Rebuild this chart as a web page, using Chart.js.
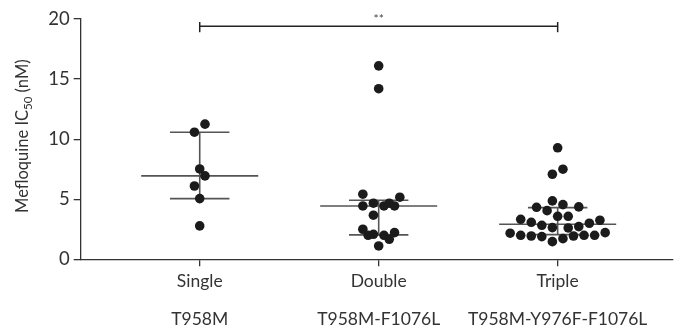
<!DOCTYPE html>
<html>
<head>
<meta charset="utf-8">
<script src="https://cdn.jsdelivr.net/npm/chart.js@4/dist/chart.umd.min.js"></script>
<style>
  html, body { margin: 0; padding: 0; background: #fff; }
  #wrap { width: 677px; height: 333px; }
</style>
</head>
<body>
<div id="wrap"><canvas id="c"></canvas></div>
<script>
// groups and second-line labels
var groups = ['Single', 'Double', 'Triple'];
var mutations = ['T958M', 'T958M-F1076L', 'T958M-Y976F-F1076L'];

// IC50 values (nM) per group, with the dot column each one sits in
var singleVals = [11.25, 10.58, 7.52, 6.94, 6.1, 5.05, 2.78];
var singleCols = [1, -1, 0, 1, -1, 0, 0];

var doubleVals = [16.1, 14.2, 5.42, 5.17, 4.44, 4.67, 4.44, 4.67, 4.44, 3.67, 2.5, 2.0, 2.08, 2.0, 1.67, 2.22, 1.11];
var doubleCols = [0, 0, -3, 4, -3, -1, 1, 2, 3, -1, -3, -2, -1, 1, 2, 3, 0];

var tripleVals = [9.28, 7.5, 7.08, 4.86, 4.55, 4.33, 4.36, 4.05, 3.58, 3.58, 3.33, 3.08, 2.83, 2.64, 2.61, 2.72, 3.0, 3.25,
                  2.17, 2.0, 1.94, 1.89, 1.47, 1.72, 1.94, 2.0, 2.0, 2.22];
var tripleCols = [0, 1, -1, -1, 1, -4, 4, -2, 0, 2, -7, -5, -3, -1, 2, 4, 6, 8,
                  -9, -7, -5, -3, -1, 1, 3, 5, 7, 9];

// median and interquartile range
var medians = [6.94, 4.44, 2.92];
var q1 = [5.05, 2.03, 2.05];
var q3 = [10.58, 4.92, 4.3];

// significance bracket
var sigFrom = 1, sigTo = 3, sigLevel = 19.4, sigLabel = '**';

var yTicks = [0, 5, 10, 15, 20];

var FONT = 'Lato, "Open Sans", sans-serif';
var COL = 0.0295;   // one dot column in category units
var MED_HALF = 0.327, Q_HALF = 0.166;

function pts(vals, cols, cat) {
    return vals.map(function (v, i) { return { x: cat + cols[i] * COL, y: v }; });
}

var dotStyle = {
    type: 'scatter',
    pointRadius: 4.8,
    pointBackgroundColor: '#1b1b1b',
    pointBorderColor: '#1b1b1b',
    pointBorderWidth: 0,
    order: 0
};

var datasets = [
    Object.assign({ label: groups[0], data: pts(singleVals, singleCols, 1) }, dotStyle),
    Object.assign({ label: groups[1], data: pts(doubleVals, doubleCols, 2) }, dotStyle),
    Object.assign({ label: groups[2], data: pts(tripleVals, tripleCols, 3) }, dotStyle)
];

function seg(a, b, color, w) {
    return {
        type: 'line', data: [a, b], borderColor: color, borderWidth: w,
        pointRadius: 0, fill: false, order: 1, clip: false
    };
}

for (var i = 0; i < groups.length; i++) {
    var c = i + 1;
    datasets.push(seg({ x: c - MED_HALF, y: medians[i] }, { x: c + MED_HALF, y: medians[i] }, '#555', 1.6));
    datasets.push(seg({ x: c - Q_HALF, y: q1[i] }, { x: c + Q_HALF, y: q1[i] }, '#555', 1.6));
    datasets.push(seg({ x: c - Q_HALF, y: q3[i] }, { x: c + Q_HALF, y: q3[i] }, '#555', 1.6));
    datasets.push(seg({ x: c, y: q1[i] }, { x: c, y: q3[i] }, '#555', 1.6));
}

// bracket
datasets.push(seg({ x: sigFrom, y: sigLevel }, { x: sigTo, y: sigLevel }, '#222', 1.5));
datasets.push(seg({ x: sigFrom, y: sigLevel - 0.5 }, { x: sigFrom, y: sigLevel + 0.35 }, '#222', 1.5));
datasets.push(seg({ x: sigTo, y: sigLevel - 0.5 }, { x: sigTo, y: sigLevel + 0.35 }, '#222', 1.5));

var extras = {
    id: 'extras',
    afterDraw: function (chart) {
        var ctx = chart.ctx, xs = chart.scales.x, ys = chart.scales.y;
        ctx.save();
        // significance stars
        ctx.fillStyle = '#444';
        ctx.font = '12px ' + FONT;
        ctx.textAlign = 'center';
        ctx.textBaseline = 'bottom';
        ctx.fillText(sigLabel, xs.getPixelForValue((sigFrom + sigTo) / 2), ys.getPixelForValue(sigLevel) - 1);

        // y title with subscript
        var cy = (chart.chartArea.top + chart.chartArea.bottom) / 2 - 3;
        ctx.translate(23, cy);
        ctx.rotate(-Math.PI / 2);
        ctx.fillStyle = '#333';
        ctx.textBaseline = 'middle';
        ctx.textAlign = 'left';
        var big = '16.5px ' + FONT, small = '11.5px ' + FONT;
        var p1 = 'Mefloquine IC', p2 = '50', p3 = ' (nM)';
        ctx.font = big; var w1 = ctx.measureText(p1).width, w3 = ctx.measureText(p3).width;
        ctx.font = small; var w2 = ctx.measureText(p2).width;
        var x0 = -(w1 + w2 + w3) / 2;
        ctx.font = big; ctx.fillText(p1, x0, 0);
        ctx.font = small; ctx.fillText(p2, x0 + w1, 5);
        ctx.font = big; ctx.fillText(p3, x0 + w1 + w2, 0);
        ctx.restore();
    }
};

new Chart(document.getElementById('c'), {
    type: 'scatter',
    data: { datasets: datasets },
    options: {
        responsive: true,
        maintainAspectRatio: false,
        animation: false,
        layout: { padding: { top: 19, right: 0, left: 0, bottom: 0 } },
        plugins: { legend: { display: false }, tooltip: { enabled: false } },
        scales: {
            x: {
                type: 'linear',
                min: 0.335,
                max: 3.64,
                afterBuildTicks: function (s) { s.ticks = [{ value: 1 }, { value: 2 }, { value: 3 }]; },
                afterFit: function (s) { s.height = 73.7; },
                ticks: {
                    autoSkip: false,
                    maxRotation: 0,
                    padding: 5,
                    color: '#333',
                    font: { family: FONT, size: 17.5, lineHeight: 1.1 },
                    callback: function (v) { return [groups[v - 1], '', mutations[v - 1]]; }
                },
                grid: { drawOnChartArea: false, drawTicks: true, tickLength: 7, color: '#333', lineWidth: 1.3 },
                border: { display: true, color: '#333', width: 1.3 }
            },
            y: {
                min: 0,
                max: 20,
                afterBuildTicks: function (s) { s.ticks = yTicks.map(function (v) { return { value: v }; }); },
                afterFit: function (s) { s.width = 80.7; },
                ticks: {
                    padding: 4,
                    color: '#333',
                    font: { family: FONT, size: 18.5 }
                },
                grid: { drawOnChartArea: false, drawTicks: true, tickLength: 7, color: '#333', lineWidth: 1.3 },
                border: { display: true, color: '#333', width: 1.3 }
            }
        }
    },
    plugins: [extras]
});
</script>
</body>
</html>
